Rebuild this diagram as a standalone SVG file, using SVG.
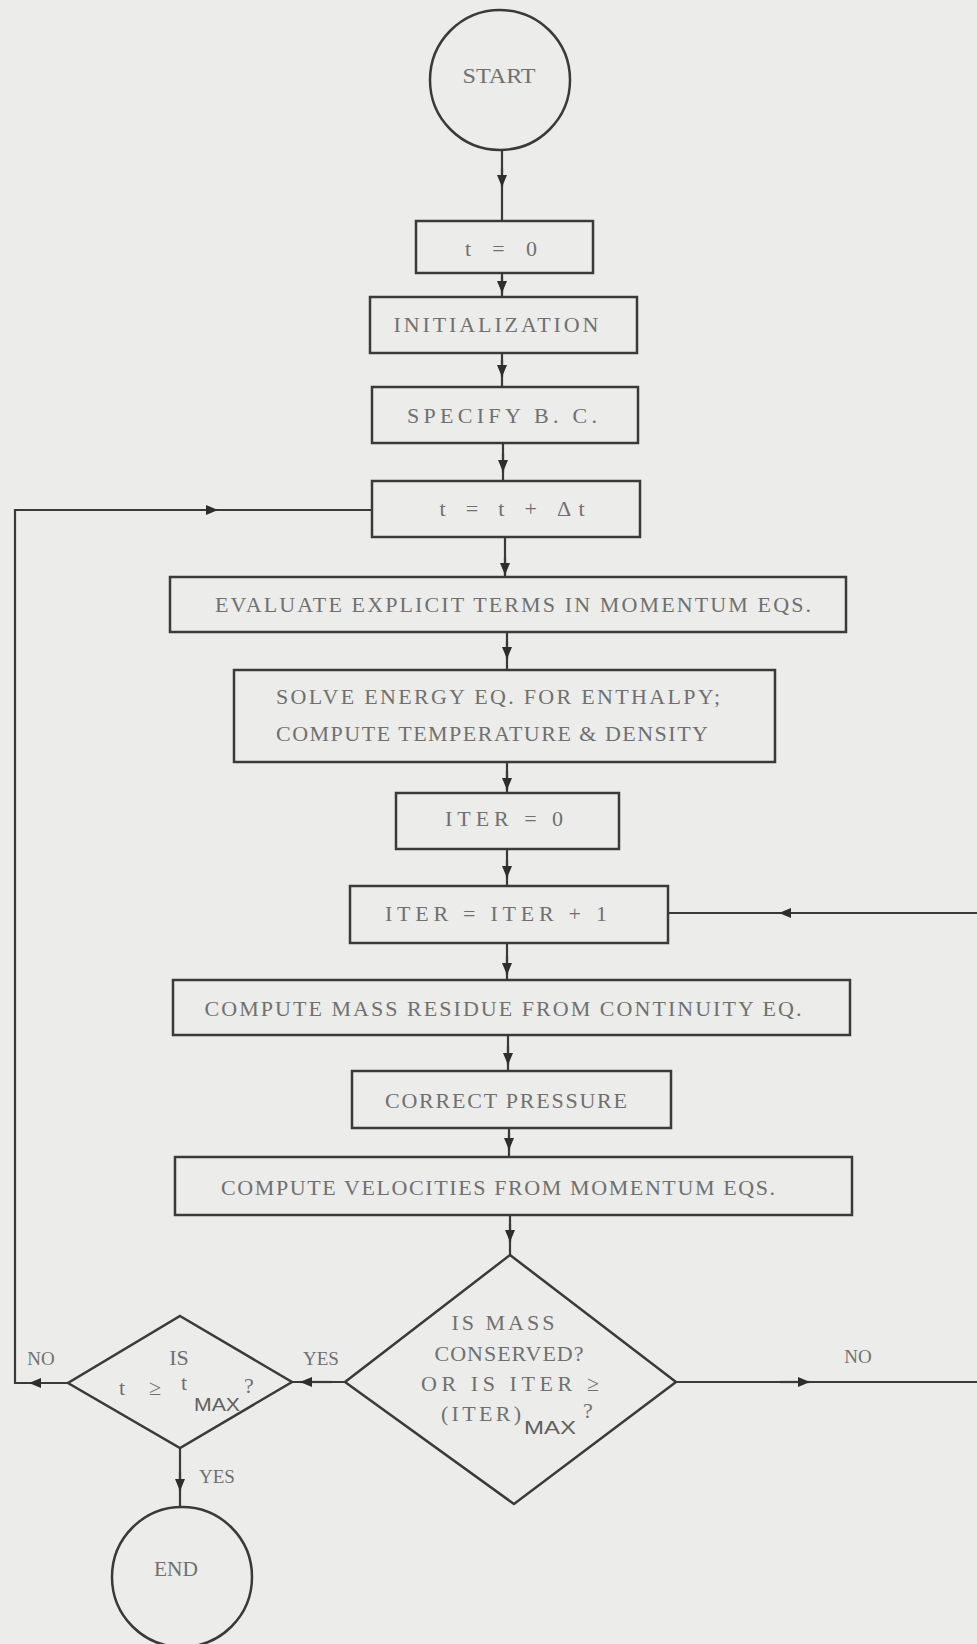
<svg xmlns="http://www.w3.org/2000/svg" width="977" height="1644" viewBox="0 0 977 1644">
<defs>
<style>
.bg{fill:#ececea}
.box{fill:none;stroke:#3a3a3a;stroke-width:2.5}
.ln{fill:none;stroke:#3a3a3a;stroke-width:2.2}
.t{font-family:"Liberation Serif","DejaVu Serif",serif;font-size:22px;fill:#707070;text-anchor:middle}
.ts{font-family:"Liberation Sans","DejaVu Sans",sans-serif;font-size:18px;fill:#606060}
.lbl{font-family:"Liberation Serif","DejaVu Serif",serif;font-size:19px;fill:#707070;text-anchor:middle}
</style>
<marker id="ah" viewBox="0 0 12 10" refX="12" refY="5" markerWidth="16" markerHeight="10" markerUnits="userSpaceOnUse" orient="auto">
<path d="M0,0 L12,5 L0,10 Z" fill="#2e2e2e"/>
</marker>
</defs>
<rect class="bg" x="0" y="0" width="977" height="1644"/>

<g id="connectors">
<path class="ln" d="M502,150 L502,221"/>
<path class="ln" d="M502,168 L502,187" marker-end="url(#ah)"/>
<path class="ln" d="M502,273 L502,297"/>
<path class="ln" d="M502,276 L502,293" marker-end="url(#ah)"/>
<path class="ln" d="M502,353 L502,387"/>
<path class="ln" d="M502,360 L502,377" marker-end="url(#ah)"/>
<path class="ln" d="M503,443 L503,481"/>
<path class="ln" d="M503,454 L503,472" marker-end="url(#ah)"/>
<path class="ln" d="M505,537 L505,577"/>
<path class="ln" d="M505,557 L505,575" marker-end="url(#ah)"/>
<path class="ln" d="M507,632 L507,670"/>
<path class="ln" d="M507,641 L507,659" marker-end="url(#ah)"/>
<path class="ln" d="M507,762 L507,793"/>
<path class="ln" d="M507,771 L507,790" marker-end="url(#ah)"/>
<path class="ln" d="M507,849 L507,886"/>
<path class="ln" d="M507,860 L507,878" marker-end="url(#ah)"/>
<path class="ln" d="M507,943 L507,980"/>
<path class="ln" d="M507,956 L507,975" marker-end="url(#ah)"/>
<path class="ln" d="M508,1035 L508,1071"/>
<path class="ln" d="M508,1046 L508,1065" marker-end="url(#ah)"/>
<path class="ln" d="M509,1128 L509,1157"/>
<path class="ln" d="M509,1133 L509,1150" marker-end="url(#ah)"/>
<path class="ln" d="M510,1215 L510,1255"/>
<path class="ln" d="M510,1224 L510,1242" marker-end="url(#ah)"/>
<!-- YES: big diamond to small diamond -->
<path class="ln" d="M345,1382 L292,1382"/>
<path class="ln" d="M332,1382 L300,1382" marker-end="url(#ah)"/>
<!-- NO: small diamond back to t = t + dt -->
<path class="ln" d="M68,1383 L15,1383 L15,510 L372,510"/>
<path class="ln" d="M62,1383 L29,1383" marker-end="url(#ah)"/>
<path class="ln" d="M180,510 L218,510" marker-end="url(#ah)"/>
<!-- YES: small diamond to END -->
<path class="ln" d="M180,1448 L180,1507"/>
<path class="ln" d="M180,1472 L180,1491" marker-end="url(#ah)"/>
<!-- NO: big diamond back to ITER = ITER + 1 -->
<path class="ln" d="M676,1382 L980,1382 L980,913 L668,913"/>
<path class="ln" d="M780,1382 L810,1382" marker-end="url(#ah)"/>
<path class="ln" d="M812,913 L779,913" marker-end="url(#ah)"/>
</g>

<g id="start">
<circle class="box" cx="500" cy="80" r="70"/>
<text class="t" x="499" y="83" textLength="73" lengthAdjust="spacingAndGlyphs">START</text>
</g>
<g id="t0">
<rect class="box" x="416" y="221" width="177" height="52"/>
<text class="t" x="501" y="256" textLength="72" lengthAdjust="spacing">t = 0</text>
</g>
<g id="init">
<rect class="box" x="370" y="297" width="267" height="56"/>
<text class="t" x="496" y="332" textLength="205" lengthAdjust="spacing">INITIALIZATION</text>
</g>
<g id="specify">
<rect class="box" x="372" y="387" width="266" height="56"/>
<text class="t" x="502" y="423" textLength="190" lengthAdjust="spacing">SPECIFY B. C.</text>
</g>
<g id="tstep">
<rect class="box" x="372" y="481" width="268" height="56"/>
<text class="t" x="512" y="516" textLength="145" lengthAdjust="spacing">t = t + Δt</text>
</g>
<g id="evaluate">
<rect class="box" x="170" y="577" width="676" height="55"/>
<text class="t" x="513" y="612" textLength="596" lengthAdjust="spacing">EVALUATE EXPLICIT TERMS IN MOMENTUM EQS.</text>
</g>
<g id="solve">
<rect class="box" x="234" y="670" width="541" height="92"/>
<text class="t" x="498" y="704" textLength="444" lengthAdjust="spacing">SOLVE ENERGY EQ. FOR ENTHALPY;</text>
<text class="t" x="492" y="741" textLength="432" lengthAdjust="spacing">COMPUTE TEMPERATURE &amp; DENSITY</text>
</g>
<g id="iter0">
<rect class="box" x="396" y="793" width="223" height="56"/>
<text class="t" x="504" y="826" textLength="118" lengthAdjust="spacing">ITER = 0</text>
</g>
<g id="iterinc">
<rect class="box" x="350" y="886" width="318" height="57"/>
<text class="t" x="496" y="921" textLength="222" lengthAdjust="spacing">ITER = ITER + 1</text>
</g>
<g id="mass">
<rect class="box" x="173" y="980" width="677" height="55"/>
<text class="t" x="503" y="1016" textLength="597" lengthAdjust="spacing">COMPUTE MASS RESIDUE FROM CONTINUITY EQ.</text>
</g>
<g id="pressure">
<rect class="box" x="352" y="1071" width="319" height="57"/>
<text class="t" x="506" y="1108" textLength="242" lengthAdjust="spacing">CORRECT PRESSURE</text>
</g>
<g id="velocities">
<rect class="box" x="175" y="1157" width="677" height="58"/>
<text class="t" x="498" y="1195" textLength="554" lengthAdjust="spacing">COMPUTE VELOCITIES FROM MOMENTUM EQS.</text>
</g>
<g id="massconserved">
<path class="box" d="M510,1255 L676,1382 L514,1504 L345,1382 Z"/>
<text class="t" x="503" y="1330" textLength="103" lengthAdjust="spacing">IS MASS</text>
<text class="t" x="509" y="1361" textLength="149" lengthAdjust="spacing">CONSERVED?</text>
<text class="t" x="510" y="1391" textLength="178" lengthAdjust="spacing">OR IS ITER ≥</text>
<text class="t" x="481" y="1421" textLength="80" lengthAdjust="spacing">(ITER)</text>
<text class="ts" x="524" y="1434" textLength="52" lengthAdjust="spacingAndGlyphs">MAX</text>
<text class="t" x="588" y="1418">?</text>
</g>
<g id="tmax">
<path class="box" d="M180,1316 L292,1382 L180,1448 L68,1383 Z"/>
<text class="t" x="179" y="1365">IS</text>
<text class="t" x="122" y="1395">t</text>
<text class="t" x="155" y="1395">≥</text>
<text class="t" x="184" y="1390">t</text>
<text class="ts" x="194" y="1411" textLength="46" lengthAdjust="spacingAndGlyphs">MAX</text>
<text class="t" x="249" y="1393">?</text>
</g>
<g id="end">
<circle class="box" cx="182" cy="1577" r="70"/>
<text class="t" x="176" y="1576" textLength="44" lengthAdjust="spacingAndGlyphs">END</text>
</g>
<g id="labels">
<text class="lbl" x="41" y="1365">NO</text>
<text class="lbl" x="321" y="1365">YES</text>
<text class="lbl" x="217" y="1483">YES</text>
<text class="lbl" x="858" y="1363">NO</text>
</g>
</svg>
